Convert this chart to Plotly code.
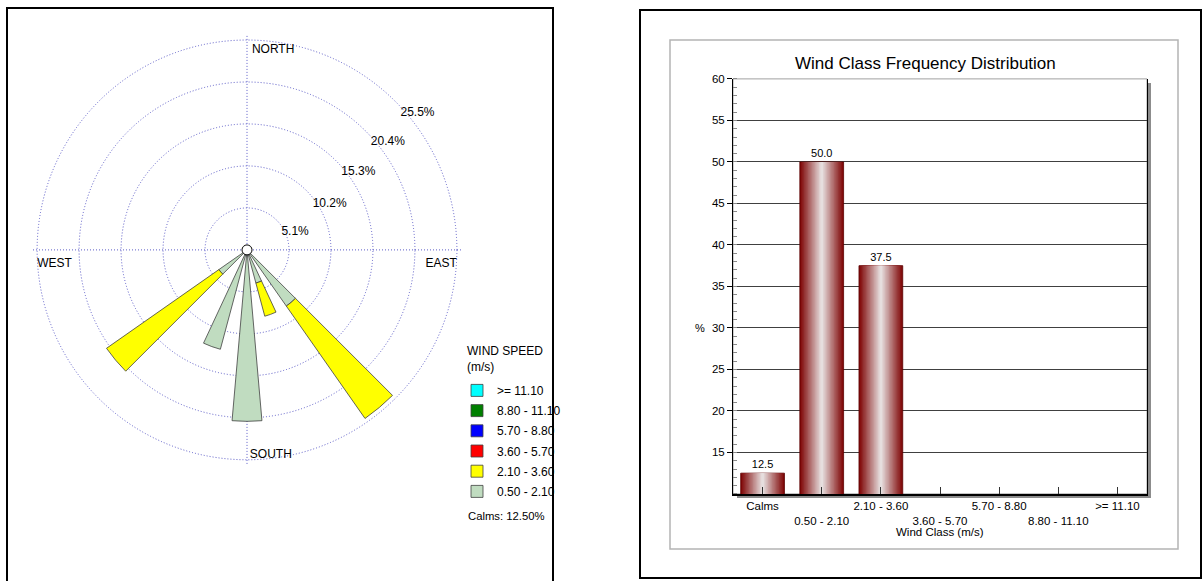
import plotly.graph_objects as go

W, H = 1203, 581

# ---------------- wind rose data ----------------
directions = [140, 160, 180, 200, 230]          # bearing (deg) of each petal
speed_classes = ["0.50 - 2.10", "2.10 - 3.60", "3.60 - 5.70",
                 "5.70 - 8.80", "8.80 - 11.10", ">= 11.10"]
class_colors = ["#c0dcc0", "#ffff00", "#ff0000", "#0000ff", "#008000", "#00ffff"]
freq_050_210 = [8.33, 4.17, 20.83, 12.50, 4.17]
freq_210_360 = [16.67, 4.17, 0.0, 0.0, 16.67]
freq_360_570 = [0.0, 0.0, 0.0, 0.0, 0.0]
freq_570_880 = [0.0, 0.0, 0.0, 0.0, 0.0]
freq_880_1110 = [0.0, 0.0, 0.0, 0.0, 0.0]
freq_ge_1110 = [0.0, 0.0, 0.0, 0.0, 0.0]
ring_values = [5.1, 10.2, 15.3, 20.4, 25.5]
compass_labels = ["NORTH", "EAST", "SOUTH", "WEST"]
compass_theta = [0, 90, 180, 270]
calms_pct = 12.50

# ---------------- bar chart data ----------------
wind_classes = ["Calms", "0.50 - 2.10", "2.10 - 3.60", "3.60 - 5.70",
                "5.70 - 8.80", "8.80 - 11.10", ">= 11.10"]
class_freq = [12.5, 50.0, 37.5, 0.0, 0.0, 0.0, 0.0]
y_ticks = [15, 20, 25, 30, 35, 40, 45, 50, 55, 60]

FONT = "Liberation Sans, Arial, sans-serif"

# placement styles for the text labels inside the rose
ring_label_angle = [55, 51.5, 48.5, 47.5, 47]
compass_label_angle = [1.4, 92.2, 179.2, 267.8]
compass_label_r = [24.3, 25.5, 24.9, 25.5]
compass_label_pos = ["middle right", "bottom left", "middle right", "bottom right"]

# page -> paper mapping (the photographed page is slightly compressed vertically)
Y0, HH = 6.1, 575.0


def fx(x):
    return x / W


def fy(y):
    return 1 - (y - Y0) / HH


fig = go.Figure()

# ---- wind rose petals ----
rose_series = [freq_050_210, freq_210_360, freq_360_570,
               freq_570_880, freq_880_1110, freq_ge_1110]
n_cls = len(speed_classes)
for k, (name, col, vals) in enumerate(zip(speed_classes, class_colors, rose_series)):
    fig.add_trace(go.Barpolar(
        r=vals, theta=directions, width=10, name=name, legendgroup=name,
        legendrank=100 + (n_cls - k),
        marker=dict(color=col, line=dict(color="#404040", width=0.8)),
        hoverinfo="skip", subplot="polar"))

# center circle
fig.add_trace(go.Scatterpolar(
    r=[0], theta=[0], mode="markers", showlegend=False, hoverinfo="skip",
    marker=dict(size=10, color="white", line=dict(color="black", width=1)),
    subplot="polar"))

# ring labels
fig.add_trace(go.Scatterpolar(
    r=ring_values, theta=ring_label_angle, mode="text",
    text=[f"{v}%" for v in ring_values], textposition="bottom right",
    textfont=dict(family=FONT, size=12, color="black"),
    showlegend=False, hoverinfo="skip", subplot="polar"))

# compass labels
fig.add_trace(go.Scatterpolar(
    r=compass_label_r, theta=compass_label_angle, mode="text",
    text=compass_labels, textposition=compass_label_pos,
    textfont=dict(family=FONT, size=12, color="black"),
    showlegend=False, hoverinfo="skip", subplot="polar"))

# ---- bar chart with cylinder-like gradient ----
edge = (128, 8, 8)
center = (230, 222, 222)
n_layers = 16
bar_w = 0.74
bar_text = [f"{v:.1f}" if v > 0 else "" for v in class_freq]
for i in range(n_layers):
    t = i / (n_layers - 1)
    c = tuple(int(round(edge[k] + (center[k] - edge[k]) * t)) for k in range(3))
    fig.add_trace(go.Bar(
        x=wind_classes, y=class_freq, width=bar_w * (1 - i / n_layers),
        marker=dict(color=f"rgb{c}",
                    line=dict(color="#5a0000", width=0.8 if i == 0 else 0)),
        text=bar_text if i == 0 else None,
        textposition="outside" if i == 0 else "none",
        textfont=dict(family=FONT, size=11, color="black"),
        cliponaxis=False, showlegend=False, hoverinfo="skip",
        xaxis="x", yaxis="y"))

grid_blue = "#5c5cc8"

shapes = [
    # left panel frame
    dict(type="rect", xref="paper", yref="paper", x0=fx(7), x1=fx(553),
         y0=fy(620), y1=fy(8), line=dict(color="black", width=2)),
    # right panel frame
    dict(type="rect", xref="paper", yref="paper", x0=fx(640), x1=fx(1201),
         y0=fy(578), y1=fy(10), line=dict(color="black", width=2)),
    # inner gray frame
    dict(type="rect", xref="paper", yref="paper", x0=fx(670), x1=fx(1178),
         y0=fy(549), y1=fy(40), line=dict(color="#b4b4b4", width=1.5)),
    # plot shadow
    dict(type="rect", xref="paper", yref="paper", x0=fx(737), x1=fx(1151),
         y0=fy(498), y1=fy(83), fillcolor="#8c8c8c", line=dict(width=0),
         layer="below"),
    # plot area
    dict(type="rect", xref="paper", yref="paper", x0=fx(733), x1=fx(1147),
         y0=fy(494), y1=fy(79), fillcolor="white",
         line=dict(color="#a0a0a0", width=1), layer="below"),
]

annotations = [
    dict(text="Wind Class Frequency Distribution", xref="paper", yref="paper",
         x=fx(926), y=fy(64), xanchor="center", yanchor="middle",
         showarrow=False, font=dict(family=FONT, size=17, color="black")),
    dict(text="%", xref="paper", yref="y", x=fx(700), y=30,
         xanchor="center", showarrow=False,
         font=dict(family=FONT, size=11, color="black")),
    dict(text="Wind Class (m/s)", xref="paper", yref="paper",
         x=fx(940), y=fy(532), xanchor="center", yanchor="middle",
         showarrow=False, font=dict(family=FONT, size=11.5, color="black")),
    dict(text="WIND SPEED<br>(m/s)", xref="paper", yref="paper",
         x=fx(465), y=fy(342), xanchor="left", yanchor="top", align="left",
         showarrow=False, font=dict(family=FONT, size=12, color="black")),
    dict(text=f"Calms: {calms_pct:.2f}%", xref="paper", yref="paper",
         x=fx(466), y=fy(516), xanchor="left", yanchor="middle",
         showarrow=False, font=dict(family=FONT, size=11.3, color="black")),
]

fig.update_layout(
    width=W, height=H, margin=dict(l=0, r=0, t=0, b=0),
    paper_bgcolor="white", plot_bgcolor="rgba(0,0,0,0)",
    font=dict(family=FONT, color="black"),
    barmode="overlay",
    polar=dict(
        domain=dict(x=[fx(33), fx(461)], y=[fy(464), fy(36)]),
        bgcolor="white", barmode="stack",
        radialaxis=dict(range=[0, 26.0], tickvals=ring_values,
                        showticklabels=False, ticks="", showline=False,
                        gridcolor=grid_blue, griddash="1px,2px", gridwidth=1),
        angularaxis=dict(rotation=90, direction="clockwise",
                         tickvals=compass_theta, showticklabels=False,
                         ticks="", showline=False,
                         gridcolor=grid_blue, griddash="1px,2px", gridwidth=1),
    ),
    xaxis=dict(domain=[fx(733), fx(1147)], anchor="y", type="category",
               range=[-0.5, 6.5], tickmode="array", tickvals=wind_classes,
               ticktext=[c if i % 2 == 0 else "<br>" + c
                         for i, c in enumerate(wind_classes)],
               tickangle=0,
               ticks="inside", ticklen=7, tickcolor="#333",
               showline=True, linecolor="black", linewidth=2,
               showgrid=False, zeroline=False,
               tickfont=dict(family=FONT, size=11.5, color="black")),
    yaxis=dict(domain=[fy(494), fy(79)], anchor="x", range=[10, 60],
               tickmode="array", tickvals=y_ticks,
               ticks="outside", ticklen=5, tickcolor="black",
               showline=True, linecolor="black", linewidth=1, mirror=True,
               showgrid=True, gridcolor="#404040", gridwidth=1,
               zeroline=False,
               minor=dict(tickmode="linear", tick0=0, dtick=1,
                          ticks="inside", ticklen=4, tickcolor="#8a8a8a",
                          showgrid=False),
               tickfont=dict(family=FONT, size=11.5, color="black")),
    legend=dict(x=fx(457), y=fy(376), xanchor="left", yanchor="top",
                traceorder="grouped", tracegroupgap=1.2,
                bgcolor="rgba(0,0,0,0)",
                font=dict(family=FONT, size=12, color="black")),
    shapes=shapes, annotations=annotations,
)

fig.write_html(
    "out.html",
    config={"displayModeBar": False},
    post_script=("document.body.style.margin='0';"
                 "document.body.style.overflow='hidden';"
                 "document.documentElement.style.overflow='hidden';"),
)
